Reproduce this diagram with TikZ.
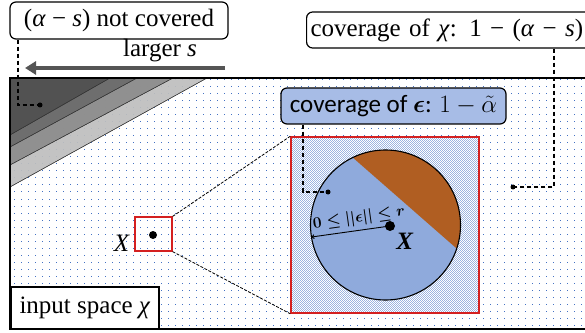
\RequirePackage{fix-cm}
\documentclass[tikz,border=0pt]{standalone}
\usepackage{amsmath}
\usepackage{fontspec}
\setmainfont{Liberation Serif}
\newfontfamily\calib{Carlito}
\usetikzlibrary{patterns,arrows.meta}
\pgfdeclarepatternformonly{bluedots}{\pgfqpoint{-1pt}{-1pt}}{\pgfqpoint{1pt}{1pt}}{\pgfqpoint{7pt}{7pt}}{\pgfpathrectangle{\pgfqpoint{-0.5pt}{-0.5pt}}{\pgfqpoint{1pt}{1pt}}\pgfusepath{fill}}
\pgfdeclarepatternformonly{checker}{\pgfqpoint{0pt}{0pt}}{\pgfqpoint{2.4pt}{2.4pt}}{\pgfqpoint{2.4pt}{2.4pt}}{\pgfpathrectangle{\pgfqpoint{0pt}{0pt}}{\pgfqpoint{1.2pt}{1.2pt}}\pgfpathrectangle{\pgfqpoint{1.2pt}{1.2pt}}{\pgfqpoint{1.2pt}{1.2pt}}\pgfusepath{fill}}
\definecolor{arrowgray}{HTML}{555555}
\definecolor{lightblue}{HTML}{8FAADC}
\definecolor{boxblue}{HTML}{A7BCE6}
\definecolor{brownseg}{HTML}{B05E22}
\definecolor{redsq}{HTML}{D42020}
\definecolor{dotblue}{HTML}{4472C4}
\definecolor{gA}{HTML}{505050}
\definecolor{gB}{HTML}{6C6C6C}
\definecolor{gC}{HTML}{8C8C8C}
\definecolor{gD}{HTML}{BEBEBE}
\newcommand{\vi}[1]{\textit{#1}}
\begin{document}
\begin{tikzpicture}[x=1pt,y=1pt,
  bigfont/.style={font=\fontsize{25}{30}\selectfont},
  rbox/.style={draw, line width=1.2pt, rounded corners=6pt, inner sep=2pt, bigfont},
  conn/.style={line width=1.4pt, dash pattern=on 4.5pt off 2.5pt},
  zoomline/.style={line width=0.8pt, dash pattern=on 3pt off 1.5pt},
  dotc/.style={circle, fill, inner sep=0pt, minimum size=5pt},
  band/.style={draw=black!80, line width=0.4pt}]
\useasboundingbox (0,0) rectangle (585,332);

% input space
\fill[pattern=bluedots, pattern color=dotblue] (10,3) rectangle (600,254);
\fill[band, fill=gD, opacity=0.92] (10,254) -- (207,254) -- (10,145) -- cycle;
\fill[band, fill=gC, opacity=0.92] (10,254) -- (173,254) -- (10,167) -- cycle;
\fill[band, fill=gB, opacity=0.92] (10,254) -- (137,254) -- (10,185) -- cycle;
\fill[band, fill=gA, opacity=0.92] (10,254) -- (110,254) -- (10,197) -- cycle;
\draw[band] (207,254) -- (10,145);
\draw[band] (173,254) -- (10,167);
\draw[band] (137,254) -- (10,185);
\draw[band] (110,254) -- (10,197);
\draw[line width=2.5pt] (10,3) rectangle (600,254);

% small square with X
\node[draw=redsq, line width=1.2pt, minimum width=37, minimum height=34, inner sep=0pt] (sq) at (153.5,98) {};
\node[dotc, minimum size=8pt] (x1) at (153,97) {};
\node[bigfont, inner sep=0pt] (xl1) at (122,89) {\vi{X}};

% big square
\fill[lightblue] (291,19) rectangle (479,195);
\fill[pattern=checker, pattern color=white] (291,19) rectangle (479,195);
\node[draw=redsq, line width=1.5pt, minimum width=188, minimum height=176, inner sep=0pt] (bsq) at (385,107) {};
\draw[zoomline] (sq.north east) -- (bsq.north west);
\draw[zoomline] (sq.south east) -- (bsq.south west);

% circle
\coordinate (cc) at (385.5,107);
\fill[lightblue] (cc) circle (75);
\fill[brownseg] (cc) ++(-18.3:75) arc[start angle=-18.3, end angle=115.9, radius=75] -- cycle;
\draw[line width=1.1pt] (cc) circle (75);
\node[dotc, minimum size=10pt] (x2) at (390,106) {};
\coordinate (redge) at (311.5,95);
\draw[line width=0.9pt, -{Straight Barb[length=2pt]}] (x2.center) -- (redge);
\node[font=\fontsize{15.6}{18}\selectfont, rotate=8, inner sep=0pt, anchor=south west] (rl) at (314,99.5) {$\boldsymbol{0 \le ||\epsilon|| \le r}$};
\node[bigfont, inner sep=0pt] (xl2) at (405,91) {\textbf{\vi{X}}};

% top-left box and arrow
\node[rbox, minimum width=218, minimum height=37] (b1) at (119,311.5) {(\vi{α} − \vi{s}) not covered};
\node[bigfont, inner sep=0pt] (ls) at (160,281) {larger \vi{s}};
\coordinate (aS) at (225,264);
\coordinate (aE) at (25,264);
\draw[arrowgray, line width=4pt, -{Triangle[length=11pt,width=13pt]}] (aS) -- (aE);
\node[dotc] (d1) at (40,227) {};
\coordinate (k1) at (18,227);
\draw[conn] (b1.south -| k1) -- (k1) -- (d1.center);

% coverage of chi
\node[rbox, anchor=west, minimum height=36, text width=278pt, align=left, inner xsep=4pt] (b2) at (306,302) {coverage of \vi{χ}: 1 − (\vi{α} − \vi{s})};
\node[dotc] (d2) at (513,145) {};
\coordinate (k2) at (554,145);
\draw[conn] (b2.south -| k2) -- (k2) -- (d2.center);

% coverage of epsilon
\node[rbox, fill=boxblue, minimum width=225, minimum height=36, font=\calib\fontsize{25}{30}\selectfont] (b3) at (393.5,226) {coverage of $\boldsymbol{\epsilon}$: $1-\tilde{\alpha}$};
\node[dotc] (d3) at (328,140) {};
\coordinate (k3) at (303,140);
\draw[conn] (b3.south -| k3) -- (k3) -- (d3.center);

% input space label
\node[draw, line width=2pt, fill=white, minimum width=148, minimum height=42, anchor=south west, bigfont, inner sep=0pt] (inp) at (10,2) {input space \vi{χ}};
\end{tikzpicture}
\end{document}
